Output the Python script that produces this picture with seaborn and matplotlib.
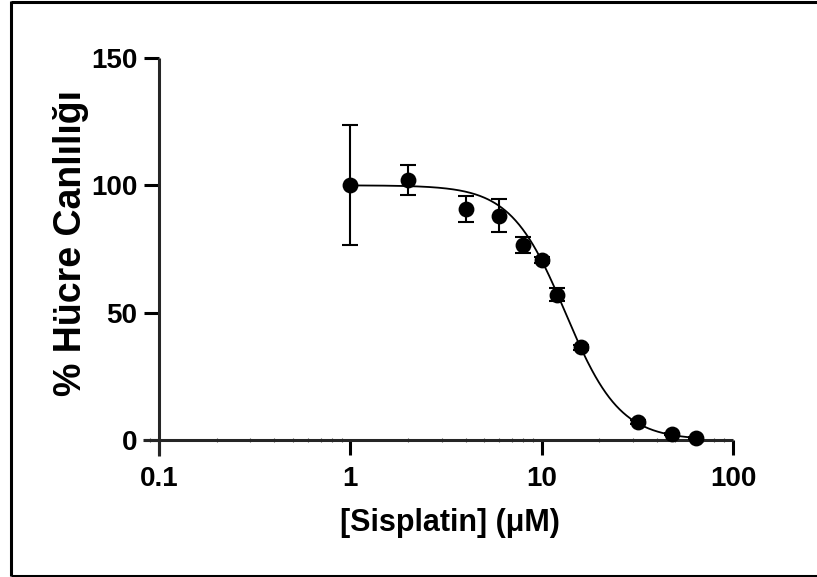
import matplotlib
matplotlib.use("Agg")
import matplotlib.pyplot as plt
import matplotlib.ticker as mticker
from matplotlib.lines import Line2D
import numpy as np
import pandas as pd
import seaborn as sns

# measured points (mean +/- SD)
conc = [1, 2, 4, 6, 8, 10, 12, 16, 32, 48, 64]
viability = [100.0, 102.2, 90.7, 88.0, 76.6, 70.7, 57.0, 36.4, 7.1, 2.4, 0.8]
sd = [23.6, 5.9, 5.3, 6.5, 3.1, 1.2, 2.5, 1.0, 0.8, 0.5, 0.5]

# 4PL fit parameters
fit_top = 100.0
fit_bottom = 0.0
fit_ic50 = 13.3
fit_hill = 3.05

x_ticks = [0.1, 1, 10, 100]
x_ticklabels = ["0.1", "1", "10", "100"]
y_ticks = [0, 50, 100, 150]

df = pd.DataFrame({"conc": conc, "viability": viability, "sd": sd})
xs = np.logspace(np.log10(conc[0]), np.log10(conc[-1]), 300)
curve = pd.DataFrame({
    "conc": xs,
    "viability": fit_bottom + (fit_top - fit_bottom) / (1 + (xs / fit_ic50) ** fit_hill),
})

sns.set_style("ticks")
plt.rcParams["font.family"] = ["Liberation Sans", "DejaVu Sans"]
plt.rcParams["font.weight"] = "bold"
plt.rcParams["text.color"] = "black"
plt.rcParams["axes.labelcolor"] = "black"

fig = plt.figure(figsize=(8.17, 5.77), dpi=100)
ax = fig.add_axes([143 / 817, 1 - 456 / 577, 590 / 817, 398 / 577])

sns.lineplot(data=curve, x="conc", y="viability", color="black", linewidth=1.3, ax=ax)
ax.errorbar(df["conc"], df["viability"], yerr=df["sd"], fmt="none", ecolor="black",
            elinewidth=1.5, capsize=5.8, capthick=1.5, zorder=3)
sns.scatterplot(data=df, x="conc", y="viability", color="black", s=130, edgecolor="black",
                linewidth=0, ax=ax, zorder=4)

ax.set_xscale("log")
ax.set_xlim(10 ** -1.084, 100)
ax.set_ylim(-6.3, 150)

for side in ["top", "right"]:
    ax.spines[side].set_visible(False)
ax.spines["left"].set_position(("data", 0.1))
ax.spines["bottom"].set_position(("data", 0))
for side in ["left", "bottom"]:
    ax.spines[side].set_linewidth(2.2)
    ax.spines[side].set_capstyle("butt")

ax.set_xticks(x_ticks)
ax.set_xticklabels(x_ticklabels)
ax.xaxis.set_minor_locator(mticker.LogLocator(base=10, subs=np.arange(2, 10)))
ax.xaxis.set_minor_formatter(mticker.NullFormatter())
ax.set_yticks(y_ticks)

ax.tick_params(axis="both", which="major", length=10.5, width=2.2, labelsize=20,
               color="black", labelcolor="black")
ax.tick_params(axis="x", which="major", pad=8)
ax.tick_params(axis="y", which="major", pad=5)
ax.tick_params(axis="x", which="minor", length=3, width=0.8, direction="inout", color="#555555")
for lbl in ax.get_xticklabels() + ax.get_yticklabels():
    lbl.set_fontweight("bold")

ax.set_xlabel("[Sisplatin] (μM)", fontsize=22, fontweight="bold")
ax.set_ylabel("% Hücre Canlılığı", fontsize=27, fontweight="bold")
ax.xaxis.set_label_coords(0.52, -0.13)
ax.yaxis.set_label_coords(-0.092, 0.535)

# frame around the picture: left, top and bottom edges
for xy in [((10.5, 10.5), (1, 576)), ((10.5, 817), (575.5, 575.5)), ((10.5, 817), (2, 2))]:
    fig.add_artist(Line2D([xy[0][0] / 817, xy[0][1] / 817], [1 - xy[1][0] / 577, 1 - xy[1][1] / 577],
                          transform=fig.transFigure, color="black", linewidth=2.2,
                          solid_capstyle="butt"))

fig.savefig("out.png", dpi=100)
plt.close(fig)
